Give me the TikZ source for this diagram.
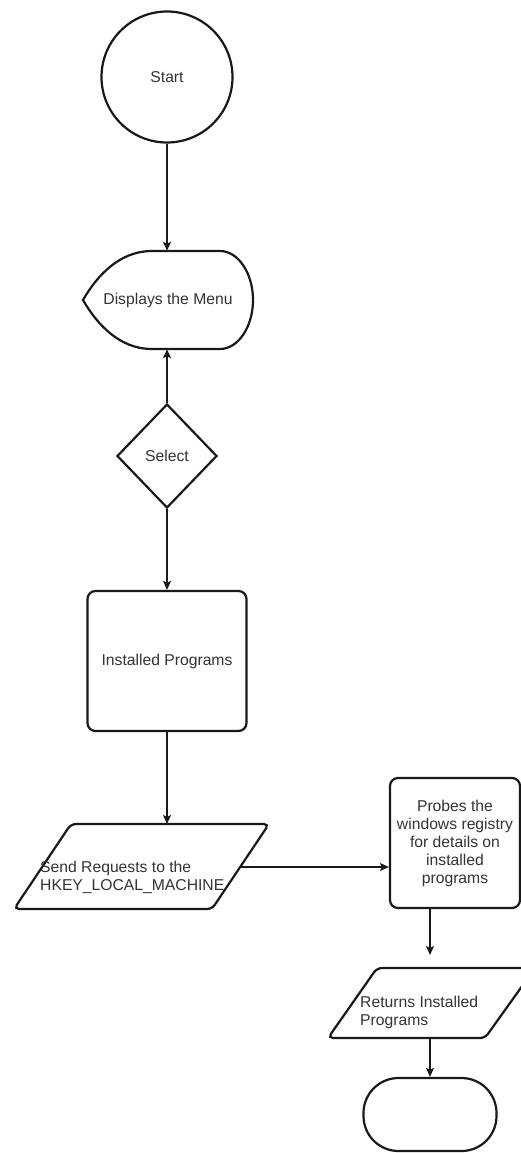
\documentclass[tikz,border=0pt]{standalone}
\usepackage{fontspec}
\setmainfont{Liberation Sans}
\usetikzlibrary{shapes.geometric,arrows.meta}

\tikzset{
  shapeline/.style={draw=black!90, line width=2.2pt},
  txt/.style={font=\fontsize{15.7}{18}\selectfont, text=black!80},
  conn/.style={draw=black!90, line width=1.5pt},
  arr/.style={conn, -{Stealth[length=9pt,width=8pt,inset=2pt]}},
  procbox/.style={shapeline, txt, rounded corners=8pt, align=center},
  iobox/.style={shapeline, rounded corners=5pt},
}

\begin{document}
\begin{tikzpicture}[x=1pt, y=-1pt]
\useasboundingbox (0,0) rectangle (521,1153);
\clip (0,0) rectangle (521,1153);

% start
\node[shapeline, txt, circle, minimum size=131pt, inner sep=0pt] (start) at (167,77) {Start};

% display symbol
\node[txt, minimum width=170pt, minimum height=98pt, inner sep=0pt] (menu) at (168,300) {Displays the Menu};
\draw[shapeline] (83,300) .. controls (98,274) and (120,252) .. (150,251)
  -- (220,251) .. controls (238,251) and (253,273) .. (253,300)
  .. controls (253,327) and (238,349) .. (220,349)
  -- (150,349) .. controls (120,348) and (98,326) .. cycle;

% decision
\node[shapeline, txt, diamond, minimum width=100pt, minimum height=104pt, inner sep=0pt] (sel) at (167,456) {Select};

% process
\node[procbox, minimum width=159pt, minimum height=140pt] (inst) at (167,661) {Installed Programs};

% request (input/output parallelogram)
\coordinate (reqtop) at (141,824);
\coordinate (reqright) at (240,867);
\draw[iobox] (71,824) -- (269,824) -- (212,909) -- (14,909) -- cycle;
\node[txt, anchor=west, align=left, inner sep=0pt] (req) at (40,877)
  {Send Requests to the\\HKEY\_LOCAL\_MACHINE};

% registry probe
\node[procbox, minimum width=130pt, minimum height=130pt] (probe) at (455,843)
  {Probes the\\windows registry\\for details on\\installed\\programs};

% returned data (input/output parallelogram)
\coordinate (rettop) at (430,968);
\coordinate (retbottom) at (430,1038);
\draw[iobox] (377,968) -- (535,968) -- (485,1038) -- (328,1038) -- cycle;
\node[txt, anchor=west, align=left, inner sep=0pt] (ret) at (360,1012.5)
  {Returns Installed\\Programs};

% end terminator
\node[shapeline, rounded corners=35pt, minimum width=133pt, minimum height=73pt] (end) at (430,1114.5) {};

% connectors
\draw[arr] (start.south) -- (start.south |- menu.north);
\draw[arr] (sel.north) -- (sel.north |- menu.south);
\draw[arr] (sel.south) -- (sel.south |- inst.north);
\draw[arr] (inst.south) -- (inst.south |- reqtop);
\draw[arr] (reqright) -- (reqright -| probe.west);
\coordinate (probeout) at ([xshift=-25pt]probe.south);
\draw[arr, shorten >=13pt] (probeout) -- (probeout |- rettop);
\draw[arr] (end.north |- retbottom) -- (end.north);
\end{tikzpicture}
\end{document}
